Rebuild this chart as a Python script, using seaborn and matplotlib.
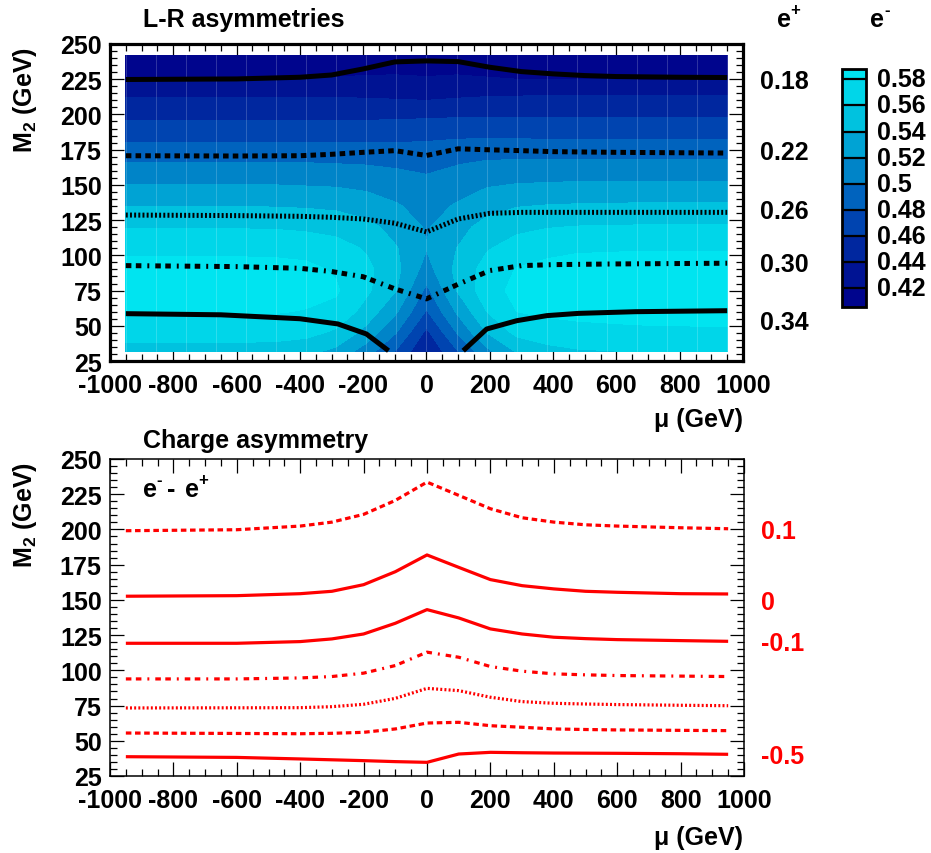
import numpy as np
import pandas as pd
import matplotlib
matplotlib.use("Agg")
import matplotlib.pyplot as plt
import matplotlib.transforms as mtransforms
from matplotlib.colors import LinearSegmentedColormap
from matplotlib.ticker import MultipleLocator
import seaborn as sns

# ---------------------------------------------------------------- data
# e- left-right asymmetry on the (mu, M2) scan grid
mu_grid = [-950, -665, -475, -380, -285, -190, -95, 0, 95, 190, 285, 380, 475, 665, 950]
m2_grid = [32, 45, 60, 75, 90, 105, 120, 135, 150, 165, 180, 195, 210, 225, 242]
alr_eminus = [
    [0.552, 0.552, 0.550, 0.546, 0.535, 0.510, 0.478, 0.440, 0.478, 0.515, 0.542, 0.553, 0.558, 0.561, 0.562],
    [0.570, 0.570, 0.569, 0.566, 0.556, 0.533, 0.500, 0.455, 0.500, 0.540, 0.565, 0.572, 0.575, 0.577, 0.578],
    [0.582, 0.582, 0.581, 0.579, 0.575, 0.552, 0.522, 0.478, 0.522, 0.560, 0.580, 0.583, 0.584, 0.585, 0.585],
    [0.587, 0.587, 0.587, 0.586, 0.582, 0.564, 0.540, 0.495, 0.540, 0.572, 0.585, 0.587, 0.587, 0.587, 0.587],
    [0.585, 0.585, 0.585, 0.584, 0.578, 0.565, 0.545, 0.512, 0.545, 0.568, 0.581, 0.585, 0.586, 0.586, 0.586],
    [0.577, 0.577, 0.576, 0.574, 0.568, 0.558, 0.541, 0.521, 0.540, 0.558, 0.569, 0.575, 0.578, 0.579, 0.579],
    [0.559, 0.559, 0.558, 0.556, 0.553, 0.546, 0.533, 0.518, 0.533, 0.547, 0.555, 0.559, 0.561, 0.562, 0.562],
    [0.540, 0.540, 0.539, 0.538, 0.536, 0.531, 0.522, 0.512, 0.522, 0.533, 0.539, 0.541, 0.542, 0.543, 0.543],
    [0.520, 0.520, 0.520, 0.519, 0.518, 0.515, 0.510, 0.505, 0.511, 0.518, 0.521, 0.522, 0.523, 0.523, 0.523],
    [0.501, 0.501, 0.501, 0.501, 0.500, 0.499, 0.497, 0.495, 0.499, 0.503, 0.504, 0.504, 0.504, 0.504, 0.504],
    [0.480, 0.480, 0.480, 0.480, 0.480, 0.480, 0.480, 0.481, 0.483, 0.484, 0.484, 0.483, 0.483, 0.483, 0.483],
    [0.461, 0.461, 0.461, 0.461, 0.461, 0.461, 0.462, 0.463, 0.464, 0.464, 0.463, 0.463, 0.463, 0.463, 0.463],
    [0.443, 0.443, 0.443, 0.443, 0.443, 0.442, 0.441, 0.440, 0.442, 0.444, 0.445, 0.446, 0.446, 0.446, 0.446],
    [0.420, 0.420, 0.420, 0.420, 0.421, 0.422, 0.422, 0.421, 0.422, 0.421, 0.420, 0.420, 0.420, 0.419, 0.419],
    [0.409, 0.409, 0.409, 0.409, 0.409, 0.410, 0.411, 0.412, 0.411, 0.410, 0.409, 0.409, 0.409, 0.409, 0.409],
]

# e+ left-right asymmetry contours (M2 versus mu)
ep_018_mu = [-950, -600, -400, -300, -200, -100, 0, 100, 200, 300, 400, 500, 600, 800, 950]
ep_018_m2 = [224.8, 225.2, 226.4, 228.0, 232.3, 237.3, 238.0, 237.5, 233.5, 230.4, 228.8, 227.6, 226.9, 226.4, 226.2]
ep_022_mu = [-950, -600, -400, -300, -200, -100, 0, 100, 200, 300, 400, 600, 950]
ep_022_m2 = [170.7, 170.5, 170.7, 171.7, 173.1, 174.3, 170.9, 175.6, 174.9, 174.3, 173.6, 173.1, 172.6]
ep_026_mu = [-950, -600, -400, -300, -200, -100, 0, 100, 200, 300, 600, 950]
ep_026_m2 = [128.6, 128.2, 127.7, 127.0, 125.8, 122.8, 116.6, 125.8, 129.8, 130.5, 130.5, 130.5]
ep_030_mu = [-950, -600, -400, -300, -200, -100, 0, 100, 200, 300, 400, 600, 950]
ep_030_m2 = [92.7, 92.0, 90.8, 88.5, 84.8, 76.2, 69.1, 79.5, 89.2, 92.7, 93.4, 93.9, 94.4]
ep_034a_mu = [-950, -650, -400, -280, -190, -120]
ep_034a_m2 = [58.6, 57.8, 55.0, 51.3, 44.2, 32.3]
ep_034b_mu = [116, 190, 285, 380, 480, 660, 950]
ep_034b_m2 = [32.3, 47.7, 53.6, 57.2, 58.8, 60.0, 60.7]
ep_labels = ["0.18", "0.22", "0.26", "0.30", "0.34"]

# charge asymmetry e- minus e+ contours (M2 versus mu)
ca_mu = [-950, -600, -400, -300, -200, -100, 0, 100, 200, 300, 400, 500, 600, 800, 950]
ca_p01 = [199.1, 199.8, 202.4, 205.2, 210.7, 220.6, 233.6, 224.2, 214.7, 208.3, 205.2, 203.3, 202.4, 201.2, 200.5]
ca_000 = [152.6, 153.0, 154.4, 156.1, 160.8, 170.0, 181.9, 173.1, 164.4, 160.1, 157.8, 156.1, 155.4, 154.4, 154.2]
ca_m01 = [119.2, 119.2, 120.4, 122.3, 125.8, 133.4, 143.1, 137.2, 129.4, 125.8, 123.5, 122.5, 121.8, 121.1, 120.6]
ca_m02 = [93.9, 93.9, 94.6, 95.6, 98.0, 103.4, 112.9, 109.3, 102.7, 99.4, 97.5, 96.8, 96.3, 95.9, 95.6]
ca_m03 = [73.3, 73.4, 73.5, 74.2, 75.9, 80.1, 87.2, 85.6, 80.9, 77.8, 76.6, 76.1, 75.7, 75.2, 74.9]
ca_m04 = [55.5, 55.2, 55.0, 55.3, 56.0, 58.4, 62.6, 63.1, 60.7, 59.6, 58.4, 58.0, 57.7, 57.4, 57.2]
ca_m05 = [38.7, 38.2, 37.1, 36.5, 35.9, 35.2, 34.7, 40.6, 41.8, 41.5, 41.3, 41.2, 41.1, 40.8, 40.4]
ca_labels = ["0.1", "0", "-0.1", "-0.5"]

# colour scale
cb_min, cb_max = 0.4054, 0.588
cb_ticks = [0.42, 0.44, 0.46, 0.48, 0.50, 0.52, 0.54, 0.56, 0.58]
cb_ticklabels = ["0.42", "0.44", "0.46", "0.48", "0.5", "0.52", "0.54", "0.56", "0.58"]

# ---------------------------------------------------------------- style
FS = 18
sns.set_theme(style="ticks")
plt.rcParams.update({
    "font.family": ["Liberation Sans", "DejaVu Sans"],
    "font.weight": "bold",
    "font.size": FS,
    "axes.unicode_minus": False,
    "lines.scale_dashes": False,
    "mathtext.fontset": "custom",
    "mathtext.rm": "Liberation Sans:bold",
    "mathtext.it": "Liberation Sans:bold",
    "mathtext.bf": "Liberation Sans:bold",
    "axes.edgecolor": "black",
    "axes.facecolor": "white",
    "xtick.color": "black",
    "ytick.color": "black",
    "text.color": "black",
})

W, H = 931, 854
fig = plt.figure(figsize=(W / 100, H / 100), dpi=100)


def fx(px):
    return px / W


def fy(py):
    return 1 - py / H


ax_top = fig.add_axes([fx(110), fy(362), fx(633), 317 / H])
ax_bot = fig.add_axes([fx(110), fy(777), fx(634), 317 / H])
cax = fig.add_axes([fx(842), fy(308), fx(24), 238 / H])


def style_axes(ax, frame_lw):
    ax.set_xlim(-1000, 1000)
    ax.set_ylim(25, 250)
    ax.xaxis.set_major_locator(MultipleLocator(200))
    ax.xaxis.set_minor_locator(MultipleLocator(50))
    ax.yaxis.set_major_locator(MultipleLocator(25))
    ax.yaxis.set_minor_locator(MultipleLocator(5))
    ax.tick_params(which="both", direction="in", top=True, right=True,
                   width=0.9, labelsize=FS)
    ax.tick_params(which="major", length=10)
    ax.tick_params(which="minor", length=5)
    ax.tick_params(axis="x", pad=8.5)
    ax.tick_params(axis="y", pad=6)
    for s in ax.spines.values():
        s.set_linewidth(frame_lw)
        s.set_color("black")
    ax.set_xlabel("")
    ax.set_ylabel("")
    ax.grid(False)


# ---------------------------------------------------------------- top panel
levels = [cb_min] + cb_ticks + [cb_max]
cmap = LinearSegmentedColormap.from_list(
    "lr_blue",
    [(0.0, "#00008a"), (0.2, "#001c98"), (0.4, "#0050b8"),
     (0.6, "#008ccb"), (0.8, "#00c4e0"), (1.0, "#00e8f2")])
band_colors = [cmap(((a + b) / 2 - cb_min) / (cb_max - cb_min))
               for a, b in zip(levels[:-1], levels[1:])]

MU, M2 = np.meshgrid(mu_grid, m2_grid)
cf = ax_top.contourf(MU, M2, np.array(alr_eminus), levels=levels,
                     colors=band_colors, antialiased=False)

# faint cell edges of the scan grid
for xv in range(-950, 951, 95):
    ax_top.plot([xv, xv], [m2_grid[0], m2_grid[-1]], color="white",
                lw=0.6, alpha=0.22)

LW_TOP = 3.6
dash_sq = (0, (4.0, 3.0))
dot = (0, (1.4, 1.6))
dash_dot = (0, (4.0, 3.2, 4.0, 4.3, 1.4, 4.3))

ep_curves = [
    ("0.18", ep_018_mu, ep_018_m2, "-"),
    ("0.22", ep_022_mu, ep_022_m2, dash_sq),
    ("0.26", ep_026_mu, ep_026_m2, dot),
    ("0.30", ep_030_mu, ep_030_m2, dash_dot),
    ("0.34", ep_034a_mu, ep_034a_m2, "-"),
    ("0.34", ep_034b_mu, ep_034b_m2, "-"),
]
for name, xs, ys, ls in ep_curves:
    d = pd.DataFrame({"mu": xs, "M2": ys})
    sns.lineplot(data=d, x="mu", y="M2", ax=ax_top, color="black",
                 linewidth=LW_TOP, linestyle=ls, estimator=None, sort=False,
                 solid_capstyle="butt", dash_capstyle="butt")

style_axes(ax_top, 2.3)

# ---------------------------------------------------------------- colour bar
cb = fig.colorbar(cf, cax=cax, spacing="proportional")
cb.outline.set_linewidth(2.0)
cb.outline.set_edgecolor("black")
cax.set_yticks([])
cax.set_xticks([])
for t in cb_ticks:
    cax.axhline(t, color="black", lw=1.6)
tr_cb = mtransforms.blended_transform_factory(fig.transFigure, cax.transData)
for t, lab in zip(cb_ticks, cb_ticklabels):
    fig.text(fx(877), t, lab, transform=tr_cb, ha="left", va="center", fontsize=FS)

# ---------------------------------------------------------------- bottom panel
LW_BOT = 2.3
dash_r = (0, (4.0, 2.6))
ca_curves = [
    ("0.1", ca_p01, dash_r),
    ("0", ca_000, "-"),
    ("-0.1", ca_m01, "-"),
    ("-0.2", ca_m02, dash_dot),
    ("-0.3", ca_m03, (0, (1.4, 1.6))),
    ("-0.4", ca_m04, dash_r),
    ("-0.5", ca_m05, "-"),
]
for name, ys, ls in ca_curves:
    d = pd.DataFrame({"mu": ca_mu, "M2": ys})
    sns.lineplot(data=d, x="mu", y="M2", ax=ax_bot, color="#ff0000",
                 linewidth=LW_BOT, linestyle=ls, estimator=None, sort=False,
                 solid_capstyle="butt", dash_capstyle="butt")

style_axes(ax_bot, 1.1)

# ---------------------------------------------------------------- texts
fig.text(fx(143), fy(27), "L-R asymmetries", ha="left", va="baseline", fontsize=FS)
fig.text(fx(143), fy(448), "Charge asymmetry", ha="left", va="baseline", fontsize=FS)

for ypx in (47, 462):
    fig.text(fx(25), fy(ypx), "M$_{2}$ (GeV)", rotation=90, ha="center",
             va="top", fontsize=FS)
for ybase in (427, 845):
    fig.text(fx(743), fy(ybase), "\u03bc (GeV)", ha="right", va="baseline",
             fontsize=FS)

# beam headers: e+ and e- (superscript sign drawn as a small hyphen)
fig.text(fx(777), fy(27), "e", ha="left", va="baseline", fontsize=FS)
fig.text(fx(790), fy(15), "+", ha="left", va="baseline", fontsize=12)
fig.text(fx(870), fy(27), "e", ha="left", va="baseline", fontsize=FS)
fig.text(fx(884), fy(15), "-", ha="left", va="baseline", fontsize=12)

tr_top = mtransforms.blended_transform_factory(fig.transFigure, ax_top.transData)
ep_label_m2 = [223.7, 173.3, 131.5, 93.9, 52.7]
for lab, yy in zip(ep_labels, ep_label_m2):
    fig.text(fx(760), yy, lab, transform=tr_top, ha="left", va="center",
             fontsize=FS)

tr_bot = mtransforms.blended_transform_factory(fig.transFigure, ax_bot.transData)
ca_label_m2 = [198.9, 148.5, 119.4, 39.2]
for lab, yy in zip(ca_labels, ca_label_m2):
    fig.text(fx(761), yy, lab, transform=tr_bot, ha="left", va="center",
             fontsize=FS, color="#ff0000")

# e- - e+ tag inside the charge-asymmetry panel
fig.text(fx(143), fy(497), "e", ha="left", va="baseline", fontsize=FS)
fig.text(fx(156), fy(485), "-", ha="left", va="baseline", fontsize=12)
fig.text(fx(167), fy(497), "-", ha="left", va="baseline", fontsize=FS)
fig.text(fx(185), fy(497), "e", ha="left", va="baseline", fontsize=FS)
fig.text(fx(198), fy(485), "+", ha="left", va="baseline", fontsize=12)

fig.savefig("out.png", dpi=100, facecolor="white")
